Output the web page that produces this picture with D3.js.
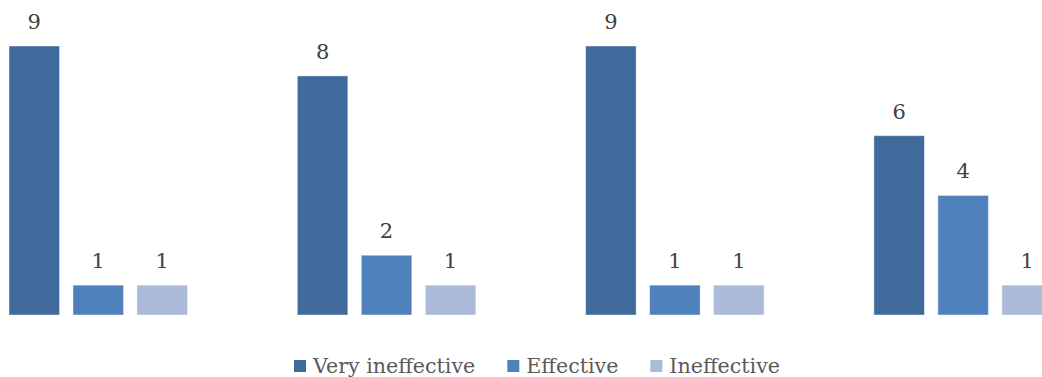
<!DOCTYPE html>
<html>
<head>
<meta charset="utf-8">
<script src="https://cdn.jsdelivr.net/npm/d3@7"></script>
<style>
  html, body { margin: 0; padding: 0; background: #ffffff; }
  svg { display: block; }
</style>
</head>
<body>
<svg id="chart" width="1042" height="377"></svg>
<script>
// Responses per group, one array per rating
const groups = ["G1", "G2", "G3", "G4"];
const seriesNames = ["Very ineffective", "Effective", "Ineffective"];
const veryIneffective = [9, 8, 9, 6];
const effective = [1, 2, 1, 4];
const ineffective = [1, 1, 1, 1];
const seriesColors = ["#406a9b", "#4f81bd", "#aabad7"];

const seriesValues = [veryIneffective, effective, ineffective];
const bars = [];
groups.forEach((grp, i) => {
  seriesNames.forEach((s, k) => {
    bars.push({ group: grp, series: s, value: seriesValues[k][i] });
  });
});

const svg = d3.select("#chart");
const fontFamily = "'DejaVu Serif', 'Liberation Serif', serif";

// Group scale (plot area runs past the visible frame on both sides)
const x0 = d3.scaleBand()
  .domain(groups)
  .range([-45.9, 1107.3])
  .paddingInner(0)
  .paddingOuter(0);

const innerWidth = 178.5;
const innerStart = (x0.bandwidth() - innerWidth) / 2;
const x1 = d3.scaleBand()
  .domain(seriesNames)
  .range([innerStart, innerStart + innerWidth])
  .paddingInner(0.21)
  .paddingOuter(0);

const barX = d => x0(d.group) + x1(d.series);

const y = d3.scaleLinear().domain([0, 9]).range([315, 46]);

const color = d3.scaleOrdinal().domain(seriesNames).range(seriesColors);

svg.append("g").attr("class", "bars")
  .selectAll("rect")
  .data(bars)
  .join("rect")
  .attr("x", barX)
  .attr("y", d => y(d.value))
  .attr("width", x1.bandwidth())
  .attr("height", d => y(0) - y(d.value))
  .attr("fill", d => color(d.series))
  .attr("stroke", "#ffffff")
  .attr("stroke-opacity", 0.45)
  .attr("stroke-width", 1);

svg.append("g").attr("class", "labels")
  .selectAll("text")
  .data(bars)
  .join("text")
  .attr("x", d => barX(d) + x1.bandwidth() / 2)
  .attr("y", d => y(d.value) - 17)
  .attr("text-anchor", "middle")
  .attr("font-family", fontFamily)
  .attr("font-size", 21)
  .attr("fill", "#404040")
  .text(d => d.value);

// Legend, centred below the bars
const legend = svg.append("g").attr("class", "legend");
const items = legend.selectAll("g.item")
  .data(seriesNames)
  .join("g")
  .attr("class", "item");

items.append("rect")
  .attr("x", 0)
  .attr("y", 360)
  .attr("width", 12)
  .attr("height", 12)
  .attr("fill", d => color(d));

items.append("text")
  .attr("x", 19)
  .attr("y", 373)
  .attr("font-family", fontFamily)
  .attr("font-size", 20.6)
  .attr("fill", "#595959")
  .text(d => d);

const widths = [];
items.each(function () {
  widths.push(this.getBBox().width);
});
const gap = 32;
const total = d3.sum(widths) + gap * (widths.length - 1);
const startX = 537 - total / 2;
let offset = 0;
items.attr("transform", (d, i) => {
  const tx = startX + offset;
  offset += widths[i] + gap;
  return `translate(${tx},0)`;
});
</script>
</body>
</html>
